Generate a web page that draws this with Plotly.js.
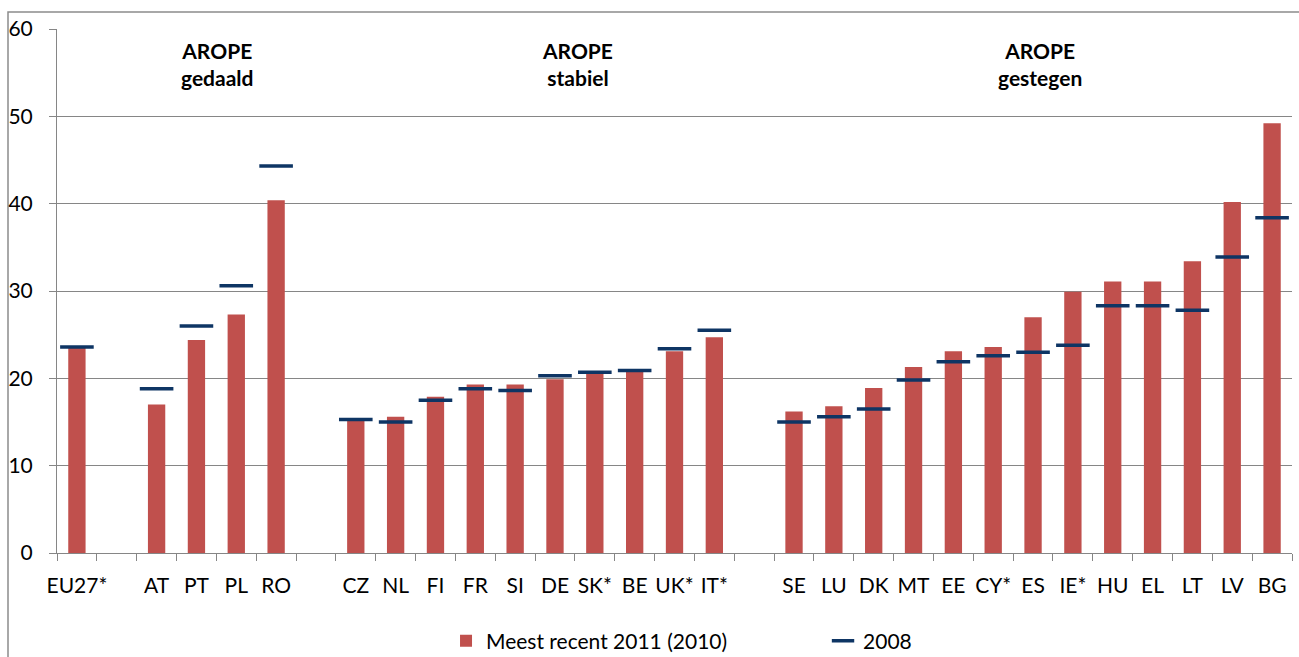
<!DOCTYPE html>
<html>
<head>
<meta charset="utf-8">
<script src="https://cdn.plot.ly/plotly-3.0.1.min.js"></script>
<style>
  html, body { margin: 0; padding: 0; background: #ffffff; }
  #chart { width: 1299px; height: 657px; }
</style>
</head>
<body>
<div id="chart"></div>
<script>
// Categories (blank slots separate the three groups)
const categories = ["EU27*", " ", "AT", "PT", "PL", "RO", "  ",
  "CZ", "NL", "FI", "FR", "SI", "DE", "SK*", "BE", "UK*", "IT*", "   ",
  "SE", "LU", "DK", "MT", "EE", "CY*", "ES", "IE*", "HU", "EL", "LT", "LV", "BG"];

// Most recent 2011 (2010) values
const recent = [23.5, null, 17.0, 24.4, 27.3, 40.4, null,
  15.2, 15.6, 17.9, 19.3, 19.3, 19.9, 20.6, 20.8, 23.1, 24.7, null,
  16.2, 16.8, 18.9, 21.3, 23.1, 23.6, 27.0, 29.9, 31.1, 31.1, 33.4, 40.2, 49.2];

// 2008 values
const y2008 = [23.6, null, 18.8, 26.0, 30.6, 44.3, null,
  15.3, 15.0, 17.5, 18.8, 18.6, 20.3, 20.7, 20.9, 23.4, 25.5, null,
  15.0, 15.6, 16.5, 19.8, 21.9, 22.6, 23.0, 23.8, 28.3, 28.3, 27.8, 33.9, 38.4];

const seriesNames = ["Meest recent 2011 (2010)", "2008"];
const groupLabels = ["<b>AROPE</b><br><b>gedaald</b>", "<b>AROPE</b><br><b>stabiel</b>", "<b>AROPE</b><br><b>gestegen</b>"];
const yTicks = [0, 10, 20, 30, 40, 50, 60];

const FONT = "Lato, 'Open Sans', sans-serif";
const FS = 21;
const GRID = "#868686";

const traces = [
  {
    type: "bar",
    name: seriesNames[0],
    x: categories,
    y: recent,
    marker: { color: "#C0504D" },
    width: 0.435
  },
  {
    type: "scatter",
    mode: "markers",
    name: seriesNames[1],
    x: categories,
    y: y2008,
    marker: { symbol: "line-ew", size: 24, color: "#0E3564",
              line: { width: 3.5, color: "#0E3564" } }
  }
];

const annFont = { family: FONT, size: FS, color: "#000000" };
const annY = (553 - 64) / 524;

const layout = {
  width: 1299,
  height: 657,
  margin: { l: 57, r: 7, t: 29, b: 104, autoexpand: false },
  paper_bgcolor: "#ffffff",
  plot_bgcolor: "#ffffff",
  font: { family: FONT, size: FS, color: "#000000" },
  showlegend: true,
  legend: {
    orientation: "h",
    x: 0.315, xanchor: "left",
    y: -0.168, yanchor: "middle",
    entrywidth: 332, entrywidthmode: "pixels",
    font: { family: FONT, size: FS, color: "#000000" },
    traceorder: "normal"
  },
  xaxis: {
    type: "category",
    categoryorder: "array",
    categoryarray: categories,
    tickson: "boundaries",
    ticks: "outside",
    ticklen: 7,
    tickcolor: GRID,
    tickwidth: 1,
    tickangle: 0,
    ticklabelstandoff: 14,
    automargin: false,
    showline: true,
    linecolor: GRID,
    linewidth: 1,
    showgrid: false,
    zeroline: false,
    tickfont: { family: FONT, size: FS, color: "#000000" },
    range: [-0.5, categories.length - 0.5],
    fixedrange: true
  },
  yaxis: {
    range: [0, 60],
    tickvals: yTicks,
    ticks: "outside",
    ticklen: 7,
    tickcolor: GRID,
    automargin: false,
    showline: true,
    linecolor: GRID,
    linewidth: 1,
    showgrid: true,
    gridcolor: GRID,
    gridwidth: 1,
    zeroline: false,
    ticklabelstandoff: 12,
    tickfont: { family: FONT, size: FS, color: "#000000" },
    fixedrange: true
  },
  annotations: [
    { text: groupLabels[0], xref: "paper", yref: "paper", x: (217 - 57) / 1235, y: annY,
      showarrow: false, xanchor: "center", yanchor: "middle", font: annFont },
    { text: groupLabels[1], xref: "paper", yref: "paper", x: (577 - 57) / 1235, y: annY,
      showarrow: false, xanchor: "center", yanchor: "middle", font: annFont },
    { text: groupLabels[2], xref: "paper", yref: "paper", x: (1040 - 57) / 1235, y: annY,
      showarrow: false, xanchor: "center", yanchor: "middle", font: annFont }
  ],
  shapes: [
    { type: "rect", xref: "paper", yref: "paper",
      x0: (8 - 57) / 1235, x1: 1.2, y0: -0.3, y1: (553 - 12) / 524,
      line: { color: "#8c8c8c", width: 1.5 }, fillcolor: "rgba(0,0,0,0)", layer: "below" }
  ]
};

Plotly.newPlot("chart", traces, layout, { displayModeBar: false, staticPlot: true });
</script>
</body>
</html>
